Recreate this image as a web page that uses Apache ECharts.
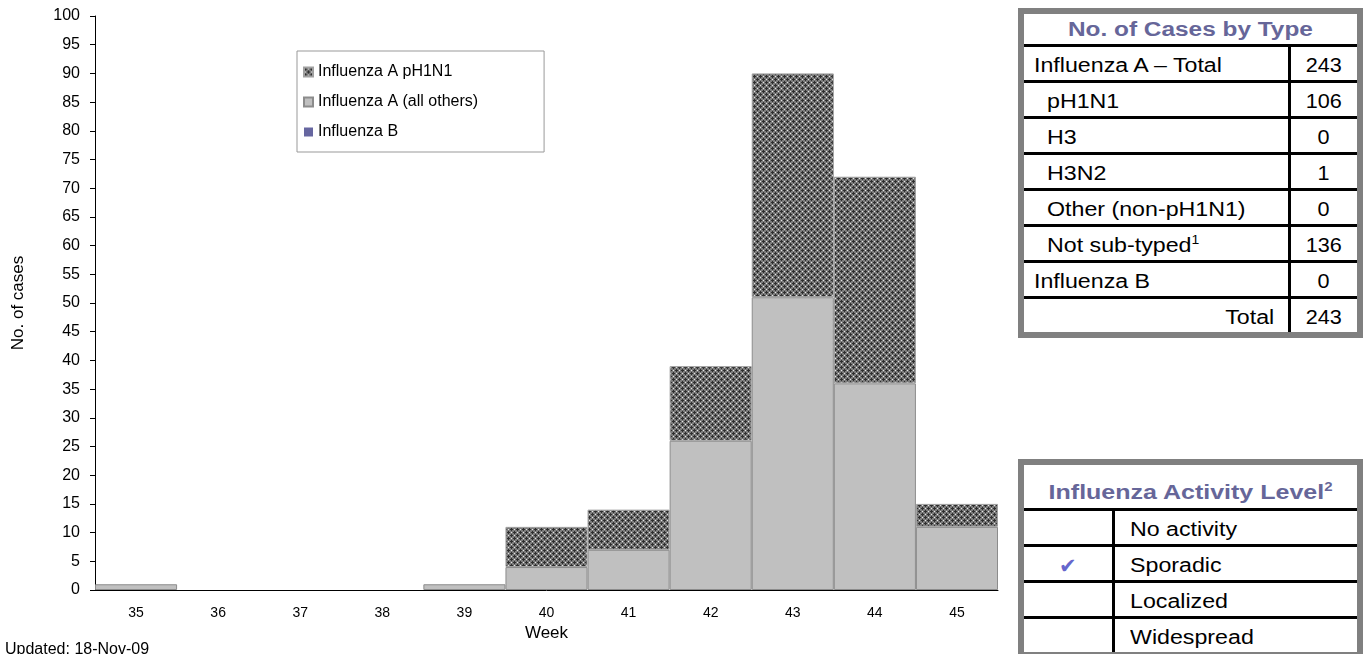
<!DOCTYPE html>
<html>
<head>
<meta charset="utf-8">
<script src="https://cdn.jsdelivr.net/npm/echarts@6/dist/echarts.min.js"></script>
<style>
  html, body { margin: 0; padding: 0; background: #fff; }
  #chart { position: absolute; left: 0; top: 0; width: 1366px; height: 654px; }
  .tbl {
    position: absolute; left: 1018px; width: 345px;
    border: 6px solid #808080; box-sizing: border-box; background: #fff;
    border-collapse: separate; border-spacing: 0;
    font-family: "Liberation Sans", Arial, sans-serif; font-size: 20px; color: #000;
  }
  .tbl td { padding: 4px 0 0 0; border-bottom: 3px solid #000; height: 29px; line-height: 29px; }
  .tbl tr:last-child td { border-bottom: none; }
  .tbl td.c1 { border-right: 3px solid #000; }
  .tbl .head { color: #666699; font-weight: bold; text-align: center; }
  .tbl .head span { display: inline-block; transform: scaleX(1.22); }
  .tbl span.t { display: inline-block; transform: scaleX(1.16); transform-origin: left center; }
  .tbl span.n { display: inline-block; transform: scaleX(1.08); }
  .tbl sup { font-size: 12px; line-height: 0; }
  #types { top: 8px; }
  #types td.c1 { width: 241px; padding-left: 10px; }
  #types td.sub { padding-left: 23px; }
  #types td.tot { text-align: right; padding-right: 14px; padding-left: 0; }
  #types td.tot span.t { transform-origin: right center; }
  #types td.c2 { text-align: center; }
  #types .head { height: 30px; line-height: 30px; padding-top: 0; }
  #level { top: 459px; }
  #level td.c1 { width: 88px; text-align: center; color: #6666cc; font-size: 21px; }
  #level td.c2 { padding-left: 15px; }
  #level .head { height: 31px; line-height: 31px; padding-top: 12px; }
  #level .head span { transform: scaleX(1.25); }
</style>
</head>
<body>
<div id="chart"></div>

<table class="tbl" id="types">
  <tr><td class="head" colspan="2"><span>No. of Cases by Type</span></td></tr>
  <tr><td class="c1"><span class="t">Influenza A – Total</span></td><td class="c2"><span class="n">243</span></td></tr>
  <tr><td class="c1 sub"><span class="t">pH1N1</span></td><td class="c2"><span class="n">106</span></td></tr>
  <tr><td class="c1 sub"><span class="t">H3</span></td><td class="c2"><span class="n">0</span></td></tr>
  <tr><td class="c1 sub"><span class="t">H3N2</span></td><td class="c2"><span class="n">1</span></td></tr>
  <tr><td class="c1 sub"><span class="t">Other (non-pH1N1)</span></td><td class="c2"><span class="n">0</span></td></tr>
  <tr><td class="c1 sub"><span class="t">Not sub-typed<sup>1</sup></span></td><td class="c2"><span class="n">136</span></td></tr>
  <tr><td class="c1"><span class="t">Influenza B</span></td><td class="c2"><span class="n">0</span></td></tr>
  <tr><td class="c1 tot"><span class="t">Total</span></td><td class="c2"><span class="n">243</span></td></tr>
</table>

<table class="tbl" id="level">
  <tr><td class="head" colspan="2"><span>Influenza Activity Level<sup>2</sup></span></td></tr>
  <tr><td class="c1"></td><td class="c2"><span class="t">No activity</span></td></tr>
  <tr><td class="c1">✔</td><td class="c2"><span class="t">Sporadic</span></td></tr>
  <tr><td class="c1"></td><td class="c2"><span class="t">Localized</span></td></tr>
  <tr><td class="c1"></td><td class="c2"><span class="t">Widespread</span></td></tr>
</table>

<script>
  // weeks and counts per week
  var weeks = ['35', '36', '37', '38', '39', '40', '41', '42', '43', '44', '45'];
  var fluAOthers = [1, 0, 0, 0, 1, 4, 7, 26, 51, 36, 11];
  var fluAPH1N1 = [0, 0, 0, 0, 0, 7, 7, 13, 39, 36, 4];
  var fluB = [0, 0, 0, 0, 0, 0, 0, 0, 0, 0, 0];
  var yTicks = { min: 0, max: 100, step: 5 };

  // hatched fill like the excel pattern
  function makePattern(){
    var c = document.createElement('canvas');
    c.width = 6; c.height = 6;
    var ctx = c.getContext('2d');
    ctx.fillStyle = '#7c7c7c';
    ctx.fillRect(0, 0, 6, 6);
    ctx.fillStyle = '#2e2e2e';
    [[1,1],[4,4]].forEach(function(p){
      ctx.fillRect(p[0]-1, p[1], 3, 1);
      ctx.fillRect(p[0], p[1]-1, 1, 3);
    });
    ctx.fillStyle = '#e6e6e6';
    ctx.fillRect(4, 1, 1, 1);
    ctx.fillRect(1, 4, 1, 1);
    return c;
  }

  function noZero(arr){
    return arr.map(function(v){ return v === 0 ? '-' : v; });
  }

  var chart = echarts.init(document.getElementById('chart'));
  var font = '"Liberation Sans", Arial, sans-serif';

  chart.setOption({
    animation: false,
    textStyle: { fontFamily: font, color: '#000' },
    grid: { left: 95, right: 368, top: 16, bottom: 64 },
    legend: {
      orient: 'vertical',
      left: 297, top: 51,
      padding: [13, 66, 12, 6],
      itemGap: 14,
      itemWidth: 9, itemHeight: 9,
      icon: 'rect',
      borderColor: '#999', borderWidth: 1,
      textStyle: { fontSize: 16, color: '#000' },
      data: ['Influenza A pH1N1', 'Influenza A (all others)', 'Influenza B']
    },
    xAxis: {
      type: 'category',
      data: weeks,
      name: 'Week',
      nameLocation: 'middle',
      nameGap: 35,
      nameTextStyle: { fontSize: 17, color: '#000' },
      axisLine: { lineStyle: { color: '#000', width: 1 } },
      axisTick: { length: 5, lineStyle: { color: '#000' } },
      axisLabel: { fontSize: 14, color: '#000', margin: 16 }
    },
    yAxis: {
      type: 'value',
      min: yTicks.min, max: yTicks.max, interval: yTicks.step,
      name: 'No. of cases',
      nameLocation: 'middle',
      nameGap: 68,
      nameTextStyle: { fontSize: 17, color: '#000' },
      splitLine: { show: false },
      axisLine: { show: true, lineStyle: { color: '#000', width: 1 } },
      axisTick: { show: true, length: 5, lineStyle: { color: '#000' } },
      axisLabel: { fontSize: 16, color: '#000', margin: 15 }
    },
    graphic: [{
      type: 'text', left: 5, top: 642,
      style: { text: 'Updated: 18-Nov-09', font: '16px ' + font, fill: '#000' }
    }],
    series: [
      {
        name: 'Influenza A (all others)', type: 'bar', stack: 'flu',
        barCategoryGap: '0%',
        itemStyle: { color: '#c0c0c0', borderColor: '#8c8c8c', borderWidth: 1 },
        data: noZero(fluAOthers)
      },
      {
        name: 'Influenza A pH1N1', type: 'bar', stack: 'flu',
        itemStyle: { color: { image: makePattern(), repeat: 'repeat' }, borderColor: '#a0a0a0', borderWidth: 1 },
        data: noZero(fluAPH1N1)
      },
      {
        name: 'Influenza B', type: 'bar', stack: 'flu',
        itemStyle: { color: '#6666a0' },
        data: noZero(fluB)
      }
    ]
  });
</script>
</body>
</html>
